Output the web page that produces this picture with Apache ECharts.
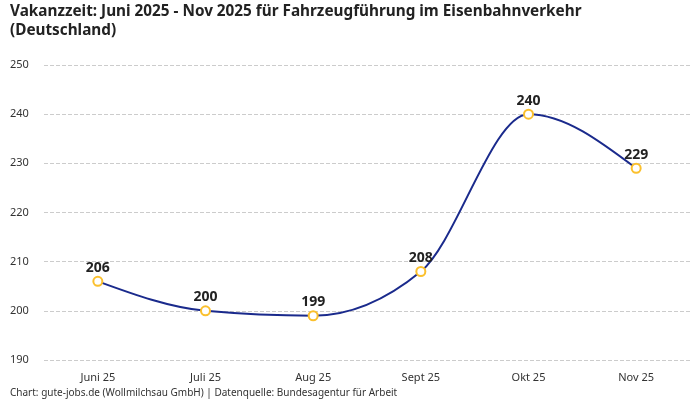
<!DOCTYPE html>
<html>
<head>
<meta charset="utf-8">
<script src="https://cdn.jsdelivr.net/npm/echarts@6/dist/echarts.min.js"></script>
<style>
  html, body { margin: 0; padding: 0; background: #fff; }
  #chart { width: 700px; height: 400px; }
</style>
</head>
<body>
<div id="chart"></div>
<script>
// Monate und Vakanzzeit in Tagen
var months = ['Juni 25', 'Juli 25', 'Aug 25', 'Sept 25', 'Okt 25', 'Nov 25'];
var vakanz = [206, 200, 199, 208, 240, 229];
var yMin = 190, yMax = 250, yStep = 10;

var font = 'Noto Sans';
var lineColor = '#1a2a8c';
var chart = echarts.init(document.getElementById('chart'));

// monotone Kurve (wie d3 curveMonotoneX) in Pixelkoordinaten
function sign(v) { return v < 0 ? -1 : 1; }
function monoSlopes(pts) {
  var n = pts.length, t = [];
  for (var i = 1; i < n - 1; i++) {
    var h0 = pts[i][0] - pts[i - 1][0], h1 = pts[i + 1][0] - pts[i][0];
    var s0 = (pts[i][1] - pts[i - 1][1]) / h0, s1 = (pts[i + 1][1] - pts[i][1]) / h1;
    var p = (s0 * h1 + s1 * h0) / (h0 + h1);
    t[i] = (sign(s0) + sign(s1)) * Math.min(Math.abs(s0), Math.abs(s1), 0.5 * Math.abs(p)) || 0;
  }
  var h = pts[1][0] - pts[0][0];
  t[0] = (3 * (pts[1][1] - pts[0][1]) / h - t[1]) / 2;
  h = pts[n - 1][0] - pts[n - 2][0];
  t[n - 1] = (3 * (pts[n - 1][1] - pts[n - 2][1]) / h - t[n - 2]) / 2;
  return t;
}

function renderCurve(params, api) {
  if (params.dataIndex !== 0) return;
  var pts = vakanz.map(function (v, i) { return api.coord([i, v]); });
  var t = monoSlopes(pts);
  var children = [];
  for (var i = 0; i < pts.length - 1; i++) {
    var dx = (pts[i + 1][0] - pts[i][0]) / 3;
    children.push({
      type: 'bezierCurve',
      shape: {
        x1: pts[i][0], y1: pts[i][1],
        x2: pts[i + 1][0], y2: pts[i + 1][1],
        cpx1: pts[i][0] + dx, cpy1: pts[i][1] + dx * t[i],
        cpx2: pts[i + 1][0] - dx, cpy2: pts[i + 1][1] - dx * t[i + 1]
      },
      style: { stroke: lineColor, lineWidth: 2, fill: null }
    });
  }
  return { type: 'group', children: children };
}

var option = {
  backgroundColor: '#fff',
  animation: false,
  textStyle: { fontFamily: font },
  title: {
    text: 'Vakanzzeit: Juni 2025 - Nov 2025 für Fahrzeugführung im Eisenbahnverkehr\n(Deutschland)',
    left: 10,
    top: 2,
    padding: 0,
    textStyle: { fontSize: 15.3, fontWeight: 'bold', color: '#222', lineHeight: 19, fontFamily: font }
  },
  graphic: [{
    type: 'text',
    left: 10,
    top: 388,
    style: {
      text: 'Chart: gute-jobs.de (Wollmilchsau GmbH) | Datenquelle: Bundesagentur für Arbeit',
      fontSize: 10,
      fill: '#333',
      fontFamily: font
    }
  }],
  grid: { left: 44, right: 10, top: 65, bottom: 40 },
  xAxis: {
    type: 'category',
    data: months,
    boundaryGap: true,
    axisLine: { show: false },
    axisTick: { show: false },
    axisLabel: { color: '#333', fontSize: 11, margin: 12 }
  },
  yAxis: {
    type: 'value',
    min: yMin,
    max: yMax,
    interval: yStep,
    axisLine: { show: false },
    axisTick: { show: false },
    axisLabel: { color: '#333', fontSize: 11, align: 'left', margin: 34 },
    splitLine: { lineStyle: { type: 'dashed', color: '#ccc' } }
  },
  series: [{
    type: 'custom',
    data: vakanz.map(function (v, i) { return [i, v]; }),
    renderItem: renderCurve,
    z: 2,
    silent: true
  }, {
    type: 'line',
    data: vakanz,
    z: 3,
    symbol: 'circle',
    symbolSize: 9,
    lineStyle: { width: 0, opacity: 0 },
    itemStyle: { color: '#fff', borderColor: '#fbc02d', borderWidth: 2 },
    label: {
      show: true,
      position: 'top',
      distance: 1,
      fontSize: 14,
      fontWeight: 'bold',
      color: '#222'
    }
  }]
};

chart.setOption(option);
</script>
</body>
</html>
